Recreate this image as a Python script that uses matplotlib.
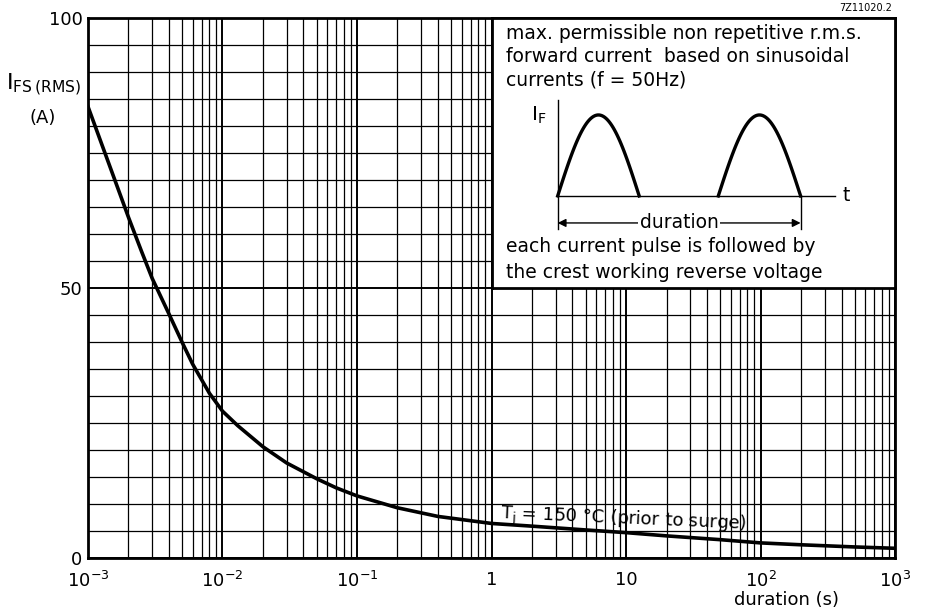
import numpy as np
import matplotlib
matplotlib.use('Agg')
import matplotlib.pyplot as plt
from matplotlib.ticker import LogLocator, MultipleLocator, FixedLocator, FixedFormatter

# curve (Tj = 150 degC prior to surge)
DURATION = [1e-3, 1.25e-3, 1.6e-3, 2e-3, 2.5e-3, 3e-3, 4e-3, 5e-3, 6e-3, 8e-3,
            1e-2, 1.3e-2, 2e-2, 3e-2, 5e-2, 7e-2, 0.1, 0.2, 0.4, 1, 2, 5,
            10, 20, 50, 100, 200, 500, 1000]
I_FS = [83.6, 77.0, 69.7, 63.1, 56.8, 51.8, 45.2, 40.0, 35.9, 30.5,
        27.2, 24.5, 20.6, 17.6, 14.7, 13.0, 11.5, 9.3, 7.7, 6.4, 5.9, 5.2,
        4.7, 4.1, 3.4, 2.8, 2.45, 2.05, 1.8]

X_TICKS = [1e-3, 1e-2, 1e-1, 1, 10, 100, 1000]
X_LABELS = ['$10^{-3}$', '$10^{-2}$', '$10^{-1}$', '1', '10', '$10^{2}$', '$10^{3}$']
Y_TICKS = [0, 50, 100]

plt.rcParams['font.family'] = ['DejaVu Sans']
plt.rcParams['mathtext.fontset'] = 'dejavusans'

fig = plt.figure(figsize=(9.3, 6.13), dpi=100)
ax = fig.add_axes([0.0946, 0.0897, 0.8678, 0.8809])

ax.set_xscale('log')
ax.set_xlim(1e-3, 1e3)
ax.set_ylim(0, 100)

ax.xaxis.set_major_locator(FixedLocator(X_TICKS))
ax.xaxis.set_major_formatter(FixedFormatter(X_LABELS))
ax.xaxis.set_minor_locator(LogLocator(base=10, subs=np.arange(2, 10), numticks=100))
ax.yaxis.set_major_locator(FixedLocator(Y_TICKS))
ax.yaxis.set_minor_locator(MultipleLocator(5))

ax.grid(which='major', color='black', linewidth=1.4)
ax.grid(which='minor', color='black', linewidth=0.9)
ax.tick_params(which='both', length=0, labelsize=13)
ax.tick_params(axis='x', pad=9)
ax.tick_params(axis='y', pad=4)
for s in ax.spines.values():
    s.set_linewidth(2)

ax.plot(DURATION, I_FS, color='black', linewidth=2.6, zorder=3,
        solid_joinstyle='round')

ax.text(0.5105, 0.072, '$\\mathregular{T_j}$ = 150 °C (prior to surge)',
        transform=ax.transAxes, fontsize=13, rotation=-2.5,
        rotation_mode='anchor', ha='left', va='baseline', zorder=4)

fig.text(44 / 930, 1 - 85 / 613, '$\\mathregular{I_{FS\\,(RMS)}}$', fontsize=16,
         ha='center', va='center')
fig.text(43 / 930, 1 - 118 / 613, '(A)', fontsize=13, ha='center', va='center')
fig.text(786 / 930, 1 - 600 / 613, 'duration (s)', fontsize=13, ha='center', va='center')
fig.text(892 / 930, 1 - 8 / 613, '7Z11020.2', fontsize=7, ha='right', va='center')

# inset box with pulse explanation
ins = ax.inset_axes([0.5, 0.5, 0.5, 0.5])
ins.set_facecolor('white')
ins.set_zorder(5)
ins.set_xlim(0, 1)
ins.set_ylim(0, 1)
ins.set_xticks([])
ins.set_yticks([])
for s in ins.spines.values():
    s.set_linewidth(2)

fs = 13.5
ins.text(0.035, 0.944, 'max. permissible non repetitive r.m.s.', fontsize=fs, va='center')
ins.text(0.035, 0.856, 'forward current  based on sinusoidal', fontsize=fs, va='center')
ins.text(0.035, 0.770, 'currents (f = 50Hz)', fontsize=fs, va='center')
ins.text(0.035, 0.152, 'each current pulse is followed by', fontsize=fs, va='center')
ins.text(0.035, 0.059, 'the crest working reverse voltage', fontsize=fs, va='center')

base = 0.341
amp = 0.30
ins.plot([0.164, 0.164], [base, 0.696], color='black', linewidth=1)
ins.plot([0.164, 0.851], [base, base], color='black', linewidth=1)
for x0, x1 in [(0.164, 0.366), (0.562, 0.766)]:
    xs = np.linspace(x0, x1, 60)
    ins.plot(xs, base + amp * np.sin(np.pi * (xs - x0) / (x1 - x0)),
             color='black', linewidth=2.4)
ins.text(0.117, 0.641, '$\\mathregular{I_F}$', fontsize=fs + 1, ha='center', va='center')
ins.text(0.88, base, 't', fontsize=fs, ha='center', va='center')

ins.plot([0.164, 0.164], [base, 0.219], color='black', linewidth=1)
ins.plot([0.766, 0.766], [base, 0.219], color='black', linewidth=1)
ins.annotate('', xy=(0.164, 0.241), xytext=(0.766, 0.241),
             arrowprops=dict(arrowstyle='<|-|>', color='black', linewidth=1,
                             mutation_scale=12, shrinkA=0, shrinkB=0))
ins.text(0.465, 0.241, 'duration', fontsize=fs, ha='center', va='center',
         bbox=dict(facecolor='white', edgecolor='none', pad=1))

fig.savefig('out.png', dpi=100)
